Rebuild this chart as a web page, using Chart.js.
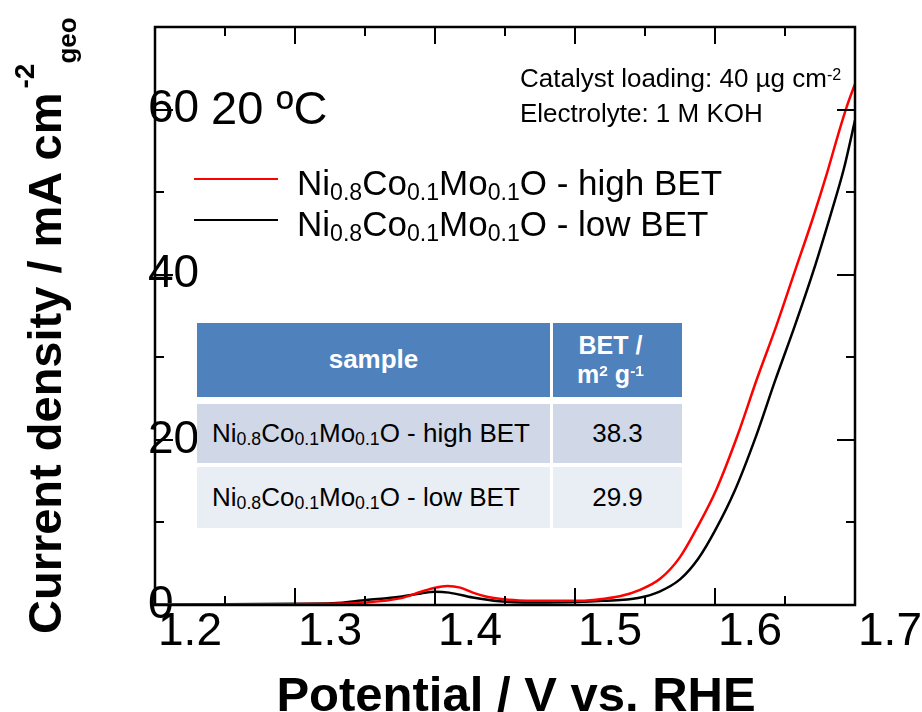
<!DOCTYPE html>
<html>
<head>
<meta charset="utf-8">
<title>LSV Ni0.8Co0.1Mo0.1O</title>
<script src="https://cdn.jsdelivr.net/npm/chart.js@4.4.1/dist/chart.umd.min.js"></script>
<style>
  html, body { margin: 0; padding: 0; background: #fff; }
  #wrap { position: relative; width: 922px; height: 712px; overflow: hidden;
          font-family: "Liberation Sans", Arial, Helvetica, sans-serif; color: #000; }
  #lsvChart { position: absolute; left: 0; top: 0; }
  .abs { position: absolute; white-space: nowrap; line-height: 1; }
  sub { font-size: 0.66em; vertical-align: baseline; position: relative; top: 0.22em; }
  sup { font-size: 0.62em; vertical-align: baseline; position: relative; top: -0.45em; }
  .ytitle { left: 21px; top: 634px; font-size: 47px; font-weight: bold;
            transform-origin: 0 0; transform: rotate(-90deg); }
  .ytitle .s1 { font-size: 28px; position: relative; top: -27px; margin-left: 4px; }
  .ytitle .s2 { font-size: 26px; position: relative; top: 15px; }
  .xtitle { left: 216px; width: 600px; top: 670px; text-align: center; font-size: 49px; font-weight: bold; }
  .temp { left: 211px; top: 84px; font-size: 47px; }
  .note { left: 520px; font-size: 26px; }
  .legline { position: absolute; left: 194px; width: 84px; height: 2px; }
  .legtext { left: 297px; font-size: 35px; }
  .cell { position: absolute; display: flex; align-items: center; font-size: 26px; line-height: 1.15; }
  .cell sub { font-size: 0.68em; }
  .head { background: #4f81bd; color: #fff; font-weight: bold; justify-content: center; text-align: center; }
</style>
</head>
<body>
<div id="wrap">
  <canvas id="lsvChart" width="922" height="712"></canvas>
  <div class="abs ytitle">Current density / mA cm<span class="s1">-2</span><span class="s2">geo</span></div>
  <div class="abs xtitle">Potential / V vs. RHE</div>
  <div class="abs temp">20 ºC</div>
  <div class="abs note" style="top:65px">Catalyst loading: 40 µg cm<sup>-2</sup></div>
  <div class="abs note" style="top:100px">Electrolyte: 1 M KOH</div>
  <div id="legend"></div>
  <div id="betTable"></div>
</div>
<script>
// LSV curves, 20 °C, 1 M KOH
const potentialHigh = [1.20, 1.25, 1.30, 1.327, 1.351, 1.375, 1.39, 1.40, 1.409, 1.418, 1.427, 1.437, 1.446, 1.46, 1.47, 1.50,
  1.515, 1.532, 1.546, 1.561, 1.575, 1.587, 1.601, 1.616, 1.630, 1.644, 1.657, 1.670, 1.680, 1.688, 1.694, 1.700];
const currentHigh = [0.05, 0.05, 0.1, 0.15, 0.3, 0.8, 1.6, 2.1, 2.3, 2.1, 1.5, 1.0, 0.75, 0.55, 0.5, 0.5,
  0.65, 1.05, 1.8, 3.2, 5.8, 9.3, 14.0, 20.5, 27.4, 33.9, 40.4, 46.9, 52.3, 57.0, 60.3, 63.1];

const potentialLow = [1.20, 1.25, 1.30, 1.327, 1.351, 1.375, 1.39, 1.40, 1.41, 1.427, 1.446, 1.47, 1.50, 1.52,
  1.545, 1.56, 1.575, 1.588, 1.60, 1.614, 1.629, 1.643, 1.657, 1.670, 1.683, 1.692, 1.700];
const currentLow = [0.05, 0.08, 0.15, 0.2, 0.6, 1.0, 1.4, 1.6, 1.5, 0.9, 0.45, 0.3, 0.35, 0.5,
  0.85, 1.6, 3.1, 5.6, 9.0, 13.8, 20.3, 27.2, 33.8, 40.3, 47.5, 52.8, 58.7];

const seriesLabels = ['Ni0.8Co0.1Mo0.1O - high BET', 'Ni0.8Co0.1Mo0.1O - low BET'];
const seriesColors = ['#ff0000', '#000000'];
const betValues = [38.3, 29.9];

const xTickValues = [1.2, 1.3, 1.4, 1.5, 1.6, 1.7];
const xMinorValues = [1.25, 1.35, 1.45, 1.55, 1.65];
const yTickValues = [0, 20, 40, 60];
const yMinorValues = [10, 30, 50];

const fontFamily = '"Liberation Sans", Arial, Helvetica, sans-serif';

function chem(s) {
  return s.replace(/(\d\.\d)/g, '<sub>$1</sub>');
}

// legend + table as html so sub/superscripts work
const legend = document.getElementById('legend');
const legTops = [165, 206];
seriesLabels.forEach((lab, i) => {
  legend.innerHTML += `<div class="legline" style="top:${legTops[i] + 13}px;background:${seriesColors[i]}"></div>` +
    `<div class="abs legtext" style="top:${legTops[i]}px">${chem(lab)}</div>`;
});

const tbl = document.getElementById('betTable');
const colX = [197, 553], colW = [353, 129];
const rowY = [323, 404, 467], rowH = [74, 59, 61];
const rowBg = ['#d0d8e8', '#e9edf4'];
tbl.innerHTML += `<div class="cell head" style="left:${colX[0]}px;top:${rowY[0]}px;width:${colW[0]}px;height:${rowH[0]}px">sample</div>`;
tbl.innerHTML += `<div class="cell head" style="left:${colX[1]}px;top:${rowY[0]}px;width:${colW[1] - 14}px;height:${rowH[0]}px;padding-right:14px;font-size:25px"><span>BET /<br>m<sup>2</sup> g<sup>-1</sup></span></div>`;
seriesLabels.forEach((lab, i) => {
  const t = rowY[i + 1], h = rowH[i + 1];
  tbl.innerHTML += `<div class="cell" style="left:${colX[0]}px;top:${t}px;width:${colW[0] - 15}px;height:${h}px;padding-left:15px;background:${rowBg[i]}"><span>${chem(lab)}</span></div>`;
  tbl.innerHTML += `<div class="cell" style="left:${colX[1]}px;top:${t}px;width:${colW[1]}px;height:${h}px;justify-content:center;background:${rowBg[i]}">${betValues[i].toFixed(1)}</div>`;
});

// box + inward ticks on all four sides
const frameTicks = {
  id: 'frameTicks',
  afterDraw(chart) {
    const { ctx, chartArea: a, scales: { x, y } } = chart;
    ctx.save();
    ctx.strokeStyle = '#000';
    ctx.lineWidth = 2.5;
    ctx.strokeRect(a.left, a.top, a.right - a.left, a.bottom - a.top);
    ctx.lineWidth = 2;
    ctx.beginPath();
    const xt = (vals, len) => vals.forEach(v => {
      const px = Math.round(x.getPixelForValue(v));
      ctx.moveTo(px, a.bottom); ctx.lineTo(px, a.bottom - len);
      ctx.moveTo(px, a.top); ctx.lineTo(px, a.top + len);
    });
    const yt = (vals, len) => vals.forEach(v => {
      const py = Math.round(y.getPixelForValue(v));
      ctx.moveTo(a.left, py); ctx.lineTo(a.left + len, py);
      ctx.moveTo(a.right, py); ctx.lineTo(a.right - len, py);
    });
    xt(xTickValues.slice(1, -1), 17);
    xt(xMinorValues, 9);
    yt(yTickValues.slice(1), 18);
    yt(yMinorValues, 9);
    ctx.stroke();
    ctx.restore();
  }
};

const ctx = document.getElementById('lsvChart').getContext('2d');
const lsvChart = new Chart(ctx, {
  type: 'line',
  data: {
    datasets: [
      {
        label: seriesLabels[0],
        data: potentialHigh.map((v, i) => ({ x: v, y: currentHigh[i] })),
        borderColor: seriesColors[0],
        borderWidth: 2.5,
        pointRadius: 0,
        cubicInterpolationMode: 'monotone',
        fill: false
      },
      {
        label: seriesLabels[1],
        data: potentialLow.map((v, i) => ({ x: v, y: currentLow[i] })),
        borderColor: seriesColors[1],
        borderWidth: 2.5,
        pointRadius: 0,
        cubicInterpolationMode: 'monotone',
        fill: false
      }
    ]
  },
  options: {
    responsive: false,
    animation: false,
    layout: { padding: { left: 155, top: 27, right: 67, bottom: 0 } },
    plugins: { legend: { display: false }, tooltip: { enabled: false } },
    scales: {
      x: {
        type: 'linear',
        min: 1.2,
        max: 1.7,
        afterFit: s => { s.height = 107; },
        afterBuildTicks: s => { s.ticks = xTickValues.map(v => ({ value: v })); },
        grid: { display: false, drawTicks: false },
        border: { display: false },
        ticks: {
          autoSkip: false,
          maxRotation: 0,
          labelOffset: 35,
          padding: 0,
          color: '#000',
          font: { family: fontFamily, size: 46 },
          callback: v => v.toFixed(1)
        }
      },
      y: {
        min: 0,
        max: 70,
        afterFit: s => { s.width = 0; },
        afterBuildTicks: s => { s.ticks = yTickValues.map(v => ({ value: v })); },
        grid: { display: false, drawTicks: false },
        border: { display: false },
        ticks: {
          mirror: true,
          padding: -7,
          labelOffset: 0,
          color: '#000',
          font: { family: fontFamily, size: 46 }
        }
      }
    }
  },
  plugins: [frameTicks]
});
</script>
</body>
</html>
